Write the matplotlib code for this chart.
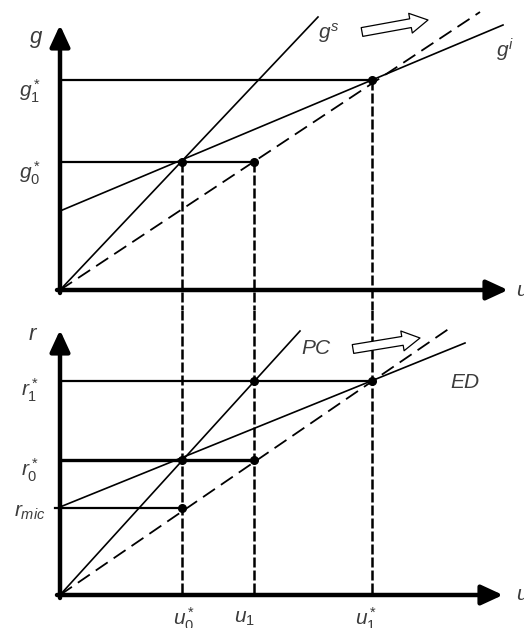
import numpy as np
import matplotlib
matplotlib.use("Agg")
import matplotlib.pyplot as plt

plt.rcParams['mathtext.fontset'] = 'custom'
plt.rcParams['mathtext.it'] = 'Liberation Sans:italic'
plt.rcParams['mathtext.rm'] = 'Liberation Sans'
plt.rcParams['font.family'] = 'Liberation Sans'

# equilibrium positions (arbitrary units)
u_levels = [1.22, 1.94, 3.12]          # u0*, u1, u1*
u_names = [r'$u_0^*$', r'$u_1$', r'$u_1^*$']
g_levels = [1.28, 2.10]                # g0*, g1*
g_names = [r'$g_0^*$', r'$g_1^*$']
r_levels = [0.87, 1.35, 2.14]          # r_mic, r0*, r1*
r_names = [r'$r_{mic}$', r'$r_0^*$', r'$r_1^*$']

# curves, start and end points
gs_u, gs_g = [0, 2.58], [0, 2.73]
gi_u, gi_g = [0, 4.43], [0.79, 2.65]
gs_new_u, gs_new_g = [0, 4.20], [0, 2.78]
pc_u, pc_r = [0, 2.40], [0, 2.64]
ed_u, ed_r = [0, 4.05], [0.88, 2.52]
pc_new_u, pc_new_r = [0, 3.90], [0, 2.67]

TXT = '#3c3c3c'
FS = 15

fig = plt.figure(figsize=(5.24, 6.28), dpi=100)
ax1 = fig.add_axes([0, 318 / 628, 1, 310 / 628])
ax2 = fig.add_axes([0, 0, 1, 318 / 628])
ax1.set_xlim(-0.60, 4.64)
ax1.set_ylim(-0.20, 2.90)
ax2.set_xlim(-0.60, 4.64)
ax2.set_ylim(-0.33, 2.85)
for ax in (ax1, ax2):
    ax.axis('off')


def axis_arrows(ax, xtip, ytip):
    kw = dict(arrowstyle='-|>,head_length=0.65,head_width=0.3', lw=3.2,
              color='black', shrinkA=0, shrinkB=0, mutation_scale=20)
    ax.annotate('', xy=(xtip, 0), xytext=(-0.03, 0), arrowprops=kw)
    ax.annotate('', xy=(0, ytip), xytext=(0, -0.03), arrowprops=kw)


def hollow_arrow(ax, start, end):
    ax.annotate('', xy=end, xytext=start,
                arrowprops=dict(arrowstyle='simple,head_length=0.8,head_width=0.9,tail_width=0.4',
                                fc='white', ec='black', lw=0.9, mutation_scale=16,
                                shrinkA=0, shrinkB=0))


# ---- top panel: g vs u ----
axis_arrows(ax1, 4.48, 2.65)
ax1.plot(gs_u, gs_g, color='black', lw=1.2)
ax1.plot(gi_u, gi_g, color='black', lw=1.2)
ax1.plot(gs_new_u, gs_new_g, color='black', lw=1.3, dashes=(8, 4))
ax1.plot([0, u_levels[1]], [g_levels[0]] * 2, color='black', lw=1.6)
ax1.plot([0, u_levels[2]], [g_levels[1]] * 2, color='black', lw=1.6)
for u, g in [(u_levels[0], g_levels[0]), (u_levels[1], g_levels[0]), (u_levels[2], g_levels[1])]:
    ax1.plot([u, u], [g, -0.20], color='black', lw=1.8, dashes=(4, 1.2))
ax1.plot([u_levels[0], u_levels[1], u_levels[2]], [g_levels[0], g_levels[0], g_levels[1]],
         'o', color='black', ms=5.5)
hollow_arrow(ax1, (3.02, 2.58), (3.68, 2.70))

ax1.text(-0.24, 2.50, r'$g$', fontsize=FS + 1, color=TXT, ha='center', va='center')
for lvl, name in zip(g_levels, g_names):
    ax1.text(-0.30, lvl - 0.11, name, fontsize=FS, color=TXT, ha='center', va='center')
ax1.text(2.69, 2.57, r'$g^s$', fontsize=FS, color=TXT, ha='center', va='center')
ax1.text(4.45, 2.40, r'$g^i$', fontsize=FS, color=TXT, ha='center', va='center')
ax1.text(4.56, 0, r'$u$', fontsize=FS, color=TXT, ha='left', va='center')

# ---- bottom panel: r vs u ----
axis_arrows(ax2, 4.43, 2.65)
ax2.plot(pc_u, pc_r, color='black', lw=1.2)
ax2.plot(ed_u, ed_r, color='black', lw=1.2)
ax2.plot(pc_new_u, pc_new_r, color='black', lw=1.3, dashes=(8, 4))
ax2.plot([-0.05, u_levels[0]], [r_levels[0]] * 2, color='black', lw=1.6)
ax2.plot([0, u_levels[1]], [r_levels[1]] * 2, color='black', lw=2.4)
ax2.plot([0, u_levels[2]], [r_levels[2]] * 2, color='black', lw=1.6)
for u in u_levels:
    ax2.plot([u, u], [2.85, 0], color='black', lw=1.8, dashes=(4, 1.2))
ax2.plot([u_levels[0], u_levels[1], u_levels[1], u_levels[2], u_levels[0]],
         [r_levels[1], r_levels[1], r_levels[2], r_levels[2], r_levels[0]],
         'o', color='black', ms=5.5)
hollow_arrow(ax2, (2.93, 2.46), (3.60, 2.57))

ax2.text(-0.27, 2.60, r'$r$', fontsize=FS + 1, color=TXT, ha='center', va='center')
for lvl, name, dy in zip(r_levels, r_names, [-0.04, -0.10, -0.09]):
    ax2.text(-0.30, lvl + dy, name, fontsize=FS, color=TXT, ha='center', va='center')
ax2.text(2.57, 2.47, r'$PC$', fontsize=FS, color=TXT, ha='center', va='center')
ax2.text(4.05, 2.13, r'$ED$', fontsize=FS, color=TXT, ha='center', va='center')
ax2.text(4.56, 0, r'$u$', fontsize=FS, color=TXT, ha='left', va='center')
for u, name, dx in zip(u_levels, u_names, [0.02, -0.10, -0.06]):
    ax2.text(u + dx, -0.24, name, fontsize=FS, color=TXT, ha='center', va='center')

fig.savefig('out.png', dpi=100, facecolor='white')
